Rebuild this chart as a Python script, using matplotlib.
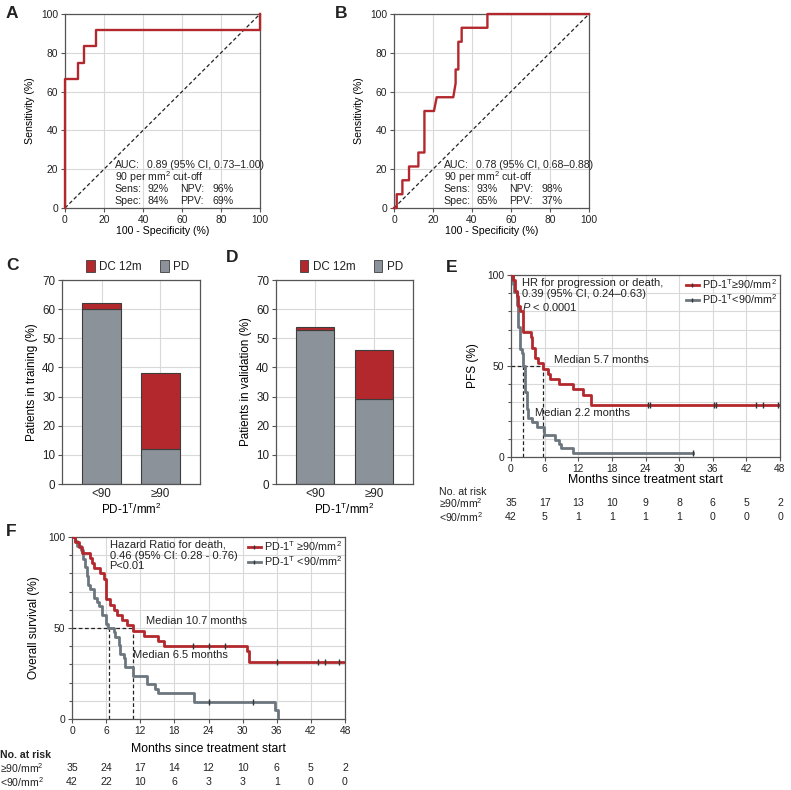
import matplotlib
matplotlib.use('Agg')
import matplotlib.pyplot as plt
import numpy as np
from matplotlib.patches import Patch
from matplotlib.lines import Line2D

plt.rcParams['font.family'] = ['Liberation Sans', 'DejaVu Sans']
plt.rcParams['mathtext.fontset'] = 'custom'
plt.rcParams['mathtext.rm'] = 'Liberation Sans'
plt.rcParams['mathtext.it'] = 'Liberation Sans:italic'
plt.rcParams['mathtext.bf'] = 'Liberation Sans:bold'
plt.rcParams['text.color'] = '#222222'

# ---- data ----
# ROC, training (A) and validation (B): 100 - specificity vs sensitivity
roc_a_fpr = [0, 0, 6.5, 6.5, 9.7, 9.7, 16.1, 16.1, 100, 100]
roc_a_tpr = [0, 66.7, 66.7, 75.0, 75.0, 83.3, 83.3, 91.7, 91.7, 100]
roc_b_fpr = [0, 1.4, 1.4, 4.3, 4.3, 7.7, 7.7, 12.5, 12.5, 15.6, 15.6, 20.5,
             21.9, 30.4, 31.6, 31.6, 33.0, 33.0, 34.7, 34.7, 47.9, 47.9, 100]
roc_b_tpr = [0, 0, 7.1, 7.1, 14.3, 14.3, 21.4, 21.4, 28.6, 28.6, 50.0, 50.0,
             57.1, 57.1, 64.3, 71.4, 71.4, 85.7, 85.7, 92.9, 92.9, 100, 100]
roc_a_stats = ['0.89 (95% CI, 0.73\u20131.00)', '92%', '84%', '96%', '69%']
roc_b_stats = ['0.78 (95% CI, 0.68\u20130.88)', '93%', '65%', '98%', '37%']

# stacked bars (C training, D validation)
bar_cats = ['<90', '\u226590']
train_pd = [60, 12]
train_dc = [2, 26]
valid_pd = [53, 29]
valid_dc = [1, 17]

# PFS (E)
pfs_hi_t = [0, 0.4, 0.7, 1.0, 1.3, 1.6, 2.2, 3.5, 3.8, 4.2, 4.9, 5.7, 6.6, 7.0,
            8.5, 11.1, 12.9, 14.2, 48]
pfs_hi_s = [100, 97.1, 91.4, 88.6, 82.9, 80.0, 68.6, 65.7, 60.0, 54.3, 51.4,
            48.6, 45.7, 42.9, 40.0, 37.1, 34.3, 28.6, 28.6]
pfs_lo_t = [0, 0.3, 0.6, 1.0, 1.3, 1.6, 1.9, 2.2, 2.5, 2.8, 3.1, 3.7, 4.6, 5.8,
            7.9, 8.5, 8.9, 11.1, 32.5]
pfs_lo_s = [100, 95.2, 90.5, 83.3, 71.4, 59.5, 57.1, 50.0, 35.7, 26.2, 21.4,
            19.0, 16.7, 11.9, 9.5, 7.1, 4.8, 2.4, 2.4]
pfs_hi_cens = [24.5, 24.8, 36.3, 36.5, 43.8, 45.0, 47.7]
pfs_lo_cens = [32.5]
pfs_medians = [5.7, 2.2]
pfs_risk_hi = [35, 17, 13, 10, 9, 8, 6, 5, 2]
pfs_risk_lo = [42, 5, 1, 1, 1, 1, 0, 0, 0]

# OS (F)
os_hi_t = [0, 0.6, 1.2, 1.8, 3.2, 3.5, 3.8, 5.0, 5.6, 5.9, 6.7, 7.3, 7.9, 8.8,
           9.7, 10.7, 12.6, 15.2, 16.1, 30.8, 31.2, 48]
os_hi_s = [100, 97.1, 94.3, 91.4, 88.6, 85.7, 82.9, 80.0, 77.1, 65.7, 62.9,
           60.0, 57.1, 54.3, 51.4, 48.6, 45.7, 42.9, 40.0, 37.1, 31.4, 31.4]
os_lo_t = [0, 0.5, 0.9, 1.5, 2.0, 2.3, 2.6, 2.9, 3.2, 3.8, 4.4, 4.7, 5.3, 5.9,
           6.4, 7.3, 7.6, 8.2, 8.5, 9.1, 9.4, 10.8, 13.2, 14.6, 15.2, 21.4,
           35.7, 36.3]
os_lo_s = [100, 97.6, 95.2, 92.9, 88.1, 83.3, 78.6, 73.8, 71.4, 66.7, 64.3,
           61.9, 57.1, 52.4, 50.0, 47.6, 45.2, 40.5, 35.7, 33.3, 28.6, 23.8,
           19.0, 16.7, 14.3, 9.5, 4.8, 0]
os_hi_cens = [21.3, 24.0, 26.9, 36.0, 43.3, 44.5, 46.9]
os_lo_cens = [24.0, 31.9]
os_medians = [10.7, 6.5]
os_risk_hi = [35, 24, 17, 14, 12, 10, 6, 5, 2]
os_risk_lo = [42, 22, 10, 6, 3, 3, 1, 0, 0]

months = list(range(0, 49, 6))

RED = '#b3282d'
GREY = '#6c767e'
BARGREY = '#8b9299'
GRIDC = '#d9d9d9'
SPINE = '#555555'

fig = plt.figure(figsize=(7.91, 7.90), dpi=100)


def px_axes(l, t, r, b):
    return fig.add_axes([l / 791, 1 - b / 790, (r - l) / 791, (b - t) / 790])


def style(ax, fs):
    for s in ax.spines.values():
        s.set_color(SPINE)
        s.set_linewidth(0.9)
    ax.tick_params(which='both', direction='out', color=SPINE, labelsize=fs,
                   labelcolor='#222222', width=0.8)
    ax.tick_params(which='major', length=3, pad=2)
    ax.tick_params(which='minor', length=2)
    ax.set_axisbelow(True)


def panel_letter(x, y, s):
    fig.text(x / 791, 1 - y / 790, s, fontsize=12.5, fontweight='bold',
             va='center', ha='left')


# ---- ROC panels ----
def roc_panel(ax, fpr, tpr, stats):
    style(ax, 7.4)
    ax.grid(True, color=GRIDC, lw=0.8)
    ax.plot([0, 100], [0, 100], color='#222222', lw=0.9, ls=(0, (3, 2)))
    ax.plot(fpr, tpr, color=RED, lw=1.7, clip_on=False, zorder=3)
    ax.set_xlim(0, 100)
    ax.set_ylim(0, 100)
    ax.set_xticks(range(0, 101, 20))
    ax.set_yticks(range(0, 101, 20))
    ax.set_xlabel('100 - Specificity (%)', fontsize=7.6, labelpad=1)
    ax.set_ylabel('Sensitivity (%)', fontsize=7.6, labelpad=4)
    fs = 7.6
    ax.text(25.5, 22.2, 'AUC:', fontsize=fs, va='center')
    ax.text(42.3, 22.2, stats[0], fontsize=fs, va='center')
    ax.text(25.5, 16.0, '90 per mm$^2$ cut-off', fontsize=fs, va='center')
    ax.text(25.5, 9.8, 'Sens:', fontsize=fs, va='center')
    ax.text(42.3, 9.8, stats[1], fontsize=fs, va='center')
    ax.text(25.5, 3.8, 'Spec:', fontsize=fs, va='center')
    ax.text(42.3, 3.8, stats[2], fontsize=fs, va='center')
    ax.text(59.2, 9.8, 'NPV:', fontsize=fs, va='center')
    ax.text(75.8, 9.8, stats[3], fontsize=fs, va='center')
    ax.text(59.2, 3.8, 'PPV:', fontsize=fs, va='center')
    ax.text(75.8, 3.8, stats[4], fontsize=fs, va='center')


axA = px_axes(65, 14, 260, 208)
roc_panel(axA, roc_a_fpr, roc_a_tpr, roc_a_stats)
axB = px_axes(394, 14, 589, 208)
roc_panel(axB, roc_b_fpr, roc_b_tpr, roc_b_stats)
panel_letter(6, 13, 'A')
panel_letter(335, 13, 'B')


# ---- stacked bars ----
def bar_panel(ax, pd_vals, dc_vals, ylabel):
    style(ax, 8.4)
    x = np.arange(len(bar_cats))
    ax.grid(True, color=GRIDC, lw=0.8)
    ax.bar(x, pd_vals, width=0.65, color=BARGREY, edgecolor='#3d3d3d', lw=0.8)
    ax.bar(x, dc_vals, width=0.65, bottom=pd_vals, color=RED,
           edgecolor='#3d3d3d', lw=0.8)
    ax.set_xlim(-0.67, 1.67)
    ax.set_ylim(0, 70)
    ax.set_yticks(range(0, 71, 10))
    ax.set_xticks(x)
    ax.set_xticklabels(bar_cats, fontsize=8.4)
    ax.tick_params(axis='x', length=0, pad=3)
    ax.set_xlabel('PD-1$^{\\mathrm{T}}$/mm$^2$', fontsize=8.4, labelpad=1)
    ax.set_ylabel(ylabel, fontsize=8.4, labelpad=3)
    handles = [Patch(facecolor=RED, edgecolor='#3d3d3d', lw=0.6, label='DC 12m'),
               Patch(facecolor=BARGREY, edgecolor='#3d3d3d', lw=0.6, label='PD')]
    ax.legend(handles=handles, loc='lower center', bbox_to_anchor=(0.55, 1.0),
              ncol=2, frameon=False, fontsize=8.4, handlelength=0.7,
              handleheight=1.3, handletextpad=0.4, columnspacing=1.6,
              borderaxespad=0.2)


axC = px_axes(62, 280, 200, 484)
bar_panel(axC, train_pd, train_dc, 'Patients in training (%)')
axD = px_axes(276, 280, 413, 484)
bar_panel(axD, valid_pd, valid_dc, 'Patients in validation (%)')
panel_letter(6, 265, 'C')
panel_letter(226, 258, 'D')


# ---- Kaplan-Meier panels ----
def surv_at(t, s, c):
    idx = np.searchsorted(t, c, side='right') - 1
    return [s[i] for i in idx]


def km_panel(ax, hi_t, hi_s, lo_t, lo_s, hi_c, lo_c, medians, ylabel,
             labels, risk_hi, risk_lo, risk_y, bold_head, head_x, xpad):
    style(ax, 7.4)
    ax.set_xlim(0, 48)
    ax.set_ylim(0, 100)
    ax.set_xticks(months)
    ax.set_yticks([0, 50, 100])
    ax.set_yticks(range(0, 101, 10), minor=True)
    ax.yaxis.grid(True, which='both', color=GRIDC, lw=0.8)
    ax.xaxis.grid(True, which='major', color=GRIDC, lw=0.8)
    # median guides
    ax.plot([0, max(medians)], [50, 50], color='#222222', lw=0.9, ls=(0, (3, 2)))
    for m in medians:
        ax.plot([m, m], [0, 50], color='#222222', lw=0.9, ls=(0, (3, 2)))
    ax.step(lo_t, lo_s, where='post', color=GREY, lw=2.0, zorder=3)
    ax.step(hi_t, hi_s, where='post', color=RED, lw=2.0, zorder=4)
    ax.plot(hi_c, surv_at(hi_t, hi_s, hi_c), ls='none', marker='|', ms=4,
            mew=1.0, color='#333333', zorder=5)
    ax.plot(lo_c, surv_at(lo_t, lo_s, lo_c), ls='none', marker='|', ms=4,
            mew=1.0, color='#333333', zorder=5)
    ax.set_ylabel(ylabel, fontsize=8.6, labelpad=6)
    ax.set_xlabel('Months since treatment start', fontsize=8.8, labelpad=xpad)
    handles = [Line2D([], [], color=RED, lw=2.0, marker='|', ms=3,
                      mec='#333333'),
               Line2D([], [], color=GREY, lw=2.0, marker='|', ms=3,
                      mec='#333333')]
    ax.legend(handles, labels, loc='upper right', bbox_to_anchor=(1.01, 1.02),
              frameon=False, fontsize=7.8, handlelength=1.2,
              handletextpad=0.3, labelspacing=0.15, borderaxespad=0.1)
    tr = ax.get_xaxis_transform()
    fw = 'bold' if bold_head else 'normal'
    ax.text(head_x, risk_y[0], 'No. at risk', transform=tr, fontsize=7.6,
            fontweight=fw, va='center', ha='left', clip_on=False)
    ax.text(head_x, risk_y[1], '\u226590/mm$^2$', transform=tr, fontsize=7.6,
            va='center', ha='left', clip_on=False)
    ax.text(head_x, risk_y[2], '<90/mm$^2$', transform=tr, fontsize=7.6,
            va='center', ha='left', clip_on=False)
    for m, a, b in zip(months, risk_hi, risk_lo):
        ax.text(m, risk_y[1], str(a), transform=tr, fontsize=7.6,
                va='center', ha='center', clip_on=False)
        ax.text(m, risk_y[2], str(b), transform=tr, fontsize=7.6,
                va='center', ha='center', clip_on=False)


axE = px_axes(511, 275, 780, 457)
km_panel(axE, pfs_hi_t, pfs_hi_s, pfs_lo_t, pfs_lo_s, pfs_hi_cens, pfs_lo_cens,
         pfs_medians, 'PFS (%)',
         ['PD-1$^{\\mathrm{T}}$\u226590/mm$^2$', 'PD-1$^{\\mathrm{T}}$<90/mm$^2$'],
         pfs_risk_hi, pfs_risk_lo, [-0.193, -0.255, -0.33], False, -12.9, 0)
axE.text(2.0, 98.5, 'HR for progression or death,\n0.39 (95% CI, 0.24\u20130.63)',
         fontsize=8.0, va='top', ha='left', linespacing=1.1)
axE.text(2.0, 85.5, '$P$ < 0.0001', fontsize=8.0, va='top', ha='left')
axE.text(7.6, 53.5, 'Median 5.7 months', fontsize=8.0, va='center', ha='left')
axE.text(4.2, 24.2, 'Median 2.2 months', fontsize=8.0, va='center', ha='left')
panel_letter(446, 267, 'E')

axF = px_axes(72, 537, 345, 719)
km_panel(axF, os_hi_t, os_hi_s, os_lo_t, os_lo_s, os_hi_cens, os_lo_cens,
         os_medians, 'Overall survival (%)',
         ['PD-1$^{\\mathrm{T}}$ \u226590/mm$^2$', 'PD-1$^{\\mathrm{T}}$ <90/mm$^2$'],
         os_risk_hi, os_risk_lo, [-0.197, -0.268, -0.347], True, -12.6, 5)
axF.text(6.6, 98.5, 'Hazard Ratio for death,\n0.46 (95% CI: 0.28 - 0.76)\nP<0.01',
         fontsize=8.0, va='top', ha='left', linespacing=1.1)
axF.text(13.0, 54.0, 'Median 10.7 months', fontsize=8.0, va='center', ha='left')
axF.text(10.7, 35.3, 'Median 6.5 months', fontsize=8.0, va='center', ha='left')
panel_letter(6, 532, 'F')

fig.savefig('out.png', dpi=100)
